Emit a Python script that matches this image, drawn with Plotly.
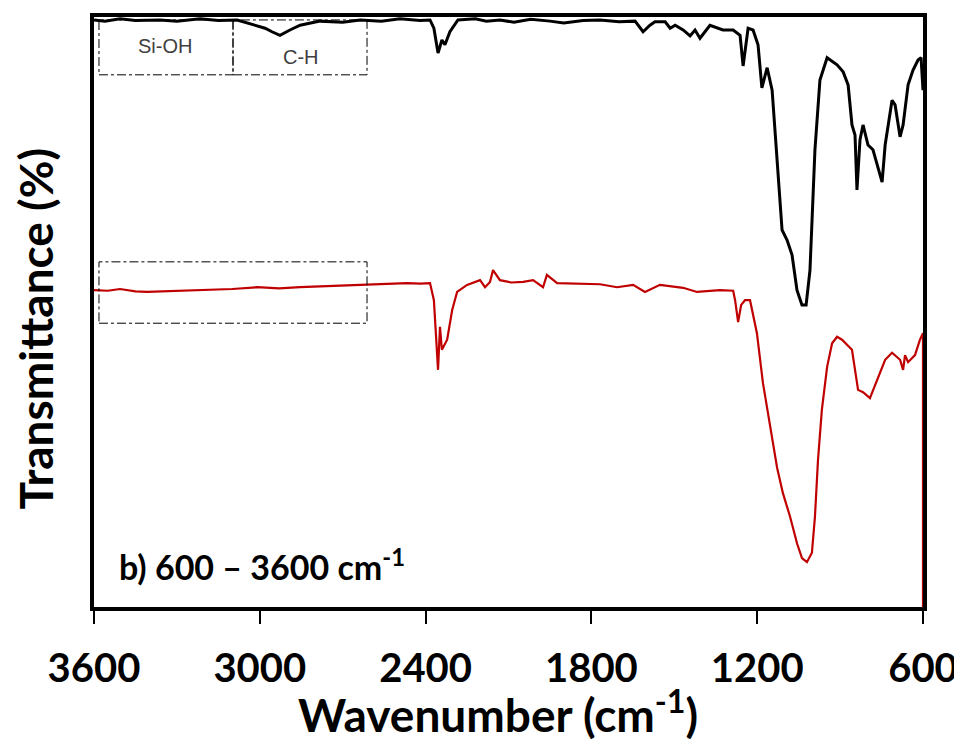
import plotly.graph_objects as go

# Black spectrum (top): wavenumber (cm-1) and transmittance (arb. %)
black_wn = [3600, 3560, 3506, 3450, 3361, 3300, 3216, 3150, 3082, 3017, 2981, 2956, 2927, 2891,
            2854, 2782, 2700, 2637, 2560, 2493, 2420, 2384, 2370, 2355, 2341, 2330, 2312, 2283,
            2220, 2180, 2131, 2080, 2020, 1950, 1900, 1830, 1769, 1700, 1642, 1613, 1588, 1570,
            1533, 1515, 1497, 1468, 1443, 1425, 1407, 1371, 1324, 1287, 1262, 1251, 1233, 1215,
            1197, 1183, 1164, 1146, 1128, 1110, 1092, 1074, 1056, 1038, 1023, 1009, 991, 973,
            947, 911, 889, 871, 857, 846, 839, 828, 817, 799, 781, 755, 748, 737, 712, 701,
            683, 672, 654, 636, 618, 607, 600]
black_t = [99.5, 99.3, 99.7, 99.4, 99.5, 99.3, 99.7, 99.4, 99.5, 98.6, 98.1, 97.5, 96.9, 97.8,
           98.6, 99.3, 99.1, 99.5, 99.3, 99.7, 99.4, 99.5, 98.1, 93.9, 96.1, 95.3, 97.5, 99.5,
           99.7, 99.3, 99.5, 99.1, 99.6, 99.3, 99.0, 99.4, 99.5, 99.2, 99.3, 97.5, 98.6, 99.2,
           99.2, 98.1, 98.6, 97.8, 96.8, 97.8, 96.4, 98.6, 97.8, 97.8, 96.9, 91.7, 98.1, 97.8,
           95.3, 88.0, 91.4, 87.6, 75.8, 63.9, 62.2, 59.7, 53.7, 51.2, 51.2, 57.1, 77.5, 89.3,
           93.1, 91.9, 90.7, 88.5, 81.7, 80.0, 70.7, 79.2, 81.7, 78.3, 77.5, 73.2, 72.0, 78.3,
           85.9, 85.1, 79.7, 81.7, 88.5, 91.0, 92.7, 93.1, 87.6]

# Red spectrum (bottom)
red_wn = [3600, 3550, 3506, 3450, 3408, 3300, 3216, 3100, 3010, 2930, 2854, 2740, 2612, 2530,
          2467, 2420, 2384, 2370, 2355, 2348, 2341, 2322, 2304, 2286, 2250, 2203, 2185, 2167,
          2156, 2131, 2090, 2047, 2011, 1975, 1961, 1924, 1850, 1769, 1707, 1649, 1606, 1552,
          1468, 1418, 1335, 1287, 1280, 1269, 1258, 1244, 1226, 1201, 1179, 1154, 1128, 1107,
          1081, 1056, 1038, 1020, 1002, 991, 980, 966, 947, 929, 911, 893, 875, 857, 835, 817,
          792, 766, 737, 712, 683, 672, 665, 654, 629, 611, 600, 600]
red_t = [53.7, 53.6, 53.9, 53.5, 53.4, 53.6, 53.7, 53.9, 54.2, 54.0, 54.2, 54.4, 54.6, 54.7,
         54.9, 54.8, 54.9, 52.0, 40.2, 47.5, 43.6, 45.3, 50.3, 53.4, 54.6, 55.4, 54.2, 55.1,
         57.1, 55.4, 55.0, 55.1, 55.4, 54.2, 56.3, 54.9, 54.8, 54.7, 54.2, 54.6, 53.4, 54.6,
         54.1, 53.4, 53.7, 53.6, 52.0, 48.3, 51.2, 52.0, 52.0, 46.4, 37.9, 30.5, 23.6, 19.3,
         15.3, 10.8, 8.3, 7.6, 9.2, 15.3, 24.9, 33.4, 40.7, 44.7, 45.8, 45.3, 44.4, 43.6, 36.8,
         36.4, 35.4, 38.5, 41.9, 43.1, 41.9, 40.2, 42.7, 41.5, 42.7, 45.3, 46.4, 0.0]

tick_vals = [3600, 3000, 2400, 1800, 1200, 600]
tick_text = ["3600", "3000", "2400", "1800", "1200", "600"]

fig = go.Figure()
fig.add_trace(go.Scatter(x=black_wn, y=black_t, mode="lines",
                         line=dict(color="black", width=3), showlegend=False))
fig.add_trace(go.Scatter(x=red_wn, y=red_t, mode="lines",
                         line=dict(color="#C00000", width=2.2), showlegend=False))

box_line = dict(color="black", width=1, dash="dashdot")
fig.add_shape(type="rect", xref="x", yref="y", x0=3582, x1=3097, y0=90.2, y1=99.5, line=box_line)
fig.add_shape(type="rect", xref="x", yref="y", x0=3097, x1=2612, y0=90.2, y1=99.5, line=box_line)
fig.add_shape(type="rect", xref="x", yref="y", x0=3582, x1=2612, y0=48.1, y1=58.5, line=box_line)

fig.add_annotation(x=3343, y=95.1, xref="x", yref="y", text="Si-OH", showarrow=False,
                   font=dict(family="Liberation Sans", size=20, color="#404040"))
fig.add_annotation(x=2850, y=93.2, xref="x", yref="y", text="C-H", showarrow=False,
                   font=dict(family="Liberation Sans", size=20, color="#404040"))
fig.add_annotation(x=3515, y=7.2, xref="x", yref="y", xanchor="left",
                   text="<b>b) 600 – 3600 cm<sup>-1</sup></b>", showarrow=False,
                   font=dict(family="Lato", size=34, color="black"))

# X axis title as annotation (fixed position)
fig.add_annotation(x=0.487, y=0, xref="paper", yref="paper", yshift=-104,
                   text="<b>Wavenumber (cm<sup>-1</sup>)</b>", showarrow=False,
                   xanchor="center", yanchor="middle",
                   font=dict(family="Lato", size=46, color="black"))

# page body has an 8px default margin, so the figure is 8px smaller
fig.update_layout(
    width=954, height=734,
    margin=dict(l=86, r=39, t=9, b=135),
    plot_bgcolor="white", paper_bgcolor="white",
    font=dict(family="Lato", color="black"),
)
fig.update_xaxes(range=[3600, 600], tickvals=tick_vals, ticktext=tick_text,
                 automargin=False,
                 showgrid=False, zeroline=False,
                 showline=True, linecolor="black", linewidth=4, mirror=True,
                 ticks="outside", ticklen=13, tickwidth=2, tickcolor="black",
                 ticklabelstandoff=10,
                 tickfont=dict(family="Lato", size=40, weight="bold"))
fig.update_yaxes(range=[0, 100], showticklabels=False, showgrid=False, zeroline=False,
                 automargin=False,
                 showline=True, linecolor="black", linewidth=4, mirror=True, ticks="",
                 title=dict(text="<b>Transmittance (%)&nbsp;&nbsp;&nbsp;</b>", standoff=36,
                            font=dict(family="Lato", size=46, color="black")))

fig.write_html("out.html")
